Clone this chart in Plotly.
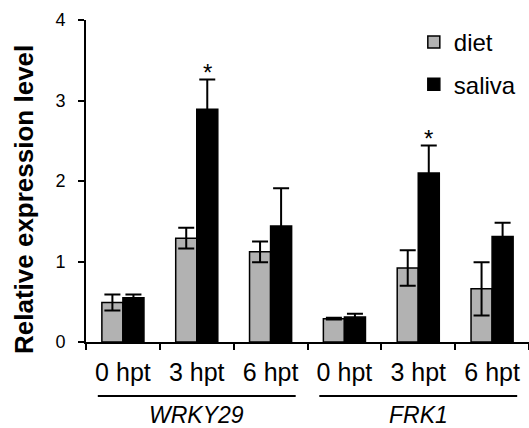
import plotly.graph_objects as go

genes = ["WRKY29", "FRK1"]
times = ["0 hpt", "3 hpt", "6 hpt"]
diet_mean = [0.49, 1.29, 1.12, 0.29, 0.92, 0.66]
diet_err = [0.10, 0.13, 0.13, 0.01, 0.22, 0.33]
saliva_mean = [0.55, 2.89, 1.44, 0.31, 2.10, 1.31]
saliva_err = [0.04, 0.37, 0.47, 0.04, 0.34, 0.17]
significant = [False, True, False, False, True, False]

cats = [f"{g} {t}" for g in genes for t in times]
tick_text = [t for g in genes for t in times]

FONT = "Liberation Sans, Arial, sans-serif"

fig = go.Figure()
fig.add_trace(go.Bar(
    x=cats, y=diet_mean, name="diet", legendgroup="a",
    marker=dict(color="#b2b2b2", line=dict(color="black", width=1.5)),
    error_y=dict(type="data", array=diet_err, visible=True, color="black", thickness=2, width=8),
))
fig.add_trace(go.Bar(
    x=cats, y=saliva_mean, name="saliva", legendgroup="b",
    marker=dict(color="black", line=dict(color="black", width=1.5)),
    error_y=dict(type="data", array=saliva_err, visible=True, color="black", thickness=2, width=8),
))

annotations = []
for c, m, e, s in zip(cats, saliva_mean, saliva_err, significant):
    if s:
        annotations.append(dict(x=c, y=m + e, xref="x", yref="y", text="*", showarrow=False,
                                xshift=10.5, yanchor="bottom", yshift=-8,
                                font=dict(family=FONT, size=24, color="black")))

plot_h = 322.0
for i, g in enumerate(genes):
    center = i * 3 + 1
    fig.add_shape(type="line", xref="x", yref="paper", x0=center - 1.34, x1=center + 1.34,
                  y0=-54 / plot_h, y1=-54 / plot_h, line=dict(color="black", width=2))
    annotations.append(dict(x=center, y=-72.5 / plot_h, xref="x", yref="paper", text=f"<i>{g}</i>",
                            showarrow=False, yanchor="middle", borderpad=0,
                            font=dict(family=FONT, size=23, color="black")))

annotations.append(dict(x=0, y=(342 - 200) / plot_h, xref="paper", yref="paper",
                        text="<b>Relative expression level</b>", textangle=-90, showarrow=False,
                        xanchor="center", yanchor="middle", xshift=-62,
                        font=dict(family=FONT, size=26, color="black")))

fig.update_layout(
    width=529, height=428,
    margin=dict(l=86, r=0, t=20, b=86),
    paper_bgcolor="white", plot_bgcolor="white",
    barmode="group", bargap=0.43, bargroupgap=0,
    font=dict(family=FONT, color="black"),
    showlegend=True,
    legend=dict(x=0.74, y=1.0, xanchor="left", yanchor="top", bgcolor="rgba(0,0,0,0)",
                font=dict(family=FONT, size=24, color="black"), tracegroupgap=8,
                traceorder="grouped"),
    annotations=annotations,
    xaxis=dict(type="category", tickvals=cats, ticktext=tick_text, tickson="boundaries",
               ticks="outside", ticklen=6, tickwidth=2, tickcolor="black",
               showline=True, linecolor="black", linewidth=2, showgrid=False,
               tickfont=dict(family=FONT, size=25, color="black"), ticklabelstandoff=7,
               range=[-0.5, 5.5]),
    yaxis=dict(range=[0, 4], tickvals=[0, 1, 2, 3, 4], ticks="outside", ticklen=6, tickwidth=2,
               tickcolor="black", showline=True, linecolor="black", linewidth=2, showgrid=False,
               zeroline=False, tickfont=dict(family=FONT, size=18, color="black"),
               ticklabelstandoff=9),
)

fig.write_html("out.html", config={"displayModeBar": False},
               post_script="document.body.style.margin='0';document.body.style.overflow='hidden';")
